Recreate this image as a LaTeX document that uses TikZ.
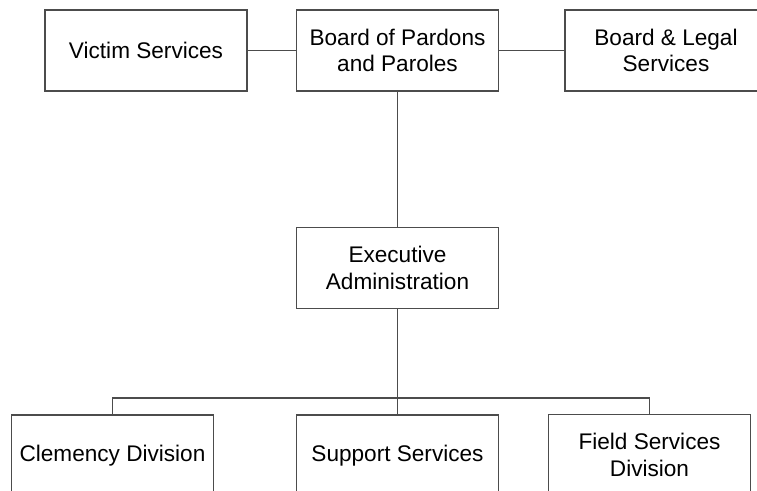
\documentclass[tikz,border=0pt]{standalone}
\usepackage{fontspec}
\setmainfont{Liberation Sans}
\usepackage{tikz}
\usetikzlibrary{positioning}
\tikzset{
	unit/.style={draw=black!70, line width=0.7pt, minimum width=101pt, minimum height=40.5pt, align=center, inner sep=0pt, font=\fontsize{11.3}{13.3}\selectfont}, % sets the look of each box
	link/.style={draw=black!70, line width=0.7pt}, % sets the look of each connector
}
\begin{document}
\begin{tikzpicture}[x=0.5pt, y=-0.5pt]
				\clip (0,0) rectangle (757,491);
				\useasboundingbox (0,0) rectangle (757,491);
				% Boxes
				\node[unit] (board) at (397.5,50.5) {Board of Pardons\\and Paroles};
				\node[unit] (victim) at (146,50.5) {Victim Services};
				\node[unit] (legal) at (666,50.5) {Board \& Legal\\Services};
				\node[unit] (exec) at (397.5,268) {Executive\\Administration};
				\node[unit] (clem) at (112.5,455.5) {Clemency Division};
				\node[unit] (supp) at (397.5,455.5) {Support Services};
				\node[unit] (field) at (649.5,455) {Field Services\\Division};
				\coordinate (jn) at (397.5,398);
				
				% Connectors
				\path[link]
				(victim) edge (board)
				(board) edge (legal)
				(board) edge (exec)
				(exec) edge (supp);
				\draw[link] (clem.north) |- (jn) -| (field.north);
			\end{tikzpicture}
\end{document}
